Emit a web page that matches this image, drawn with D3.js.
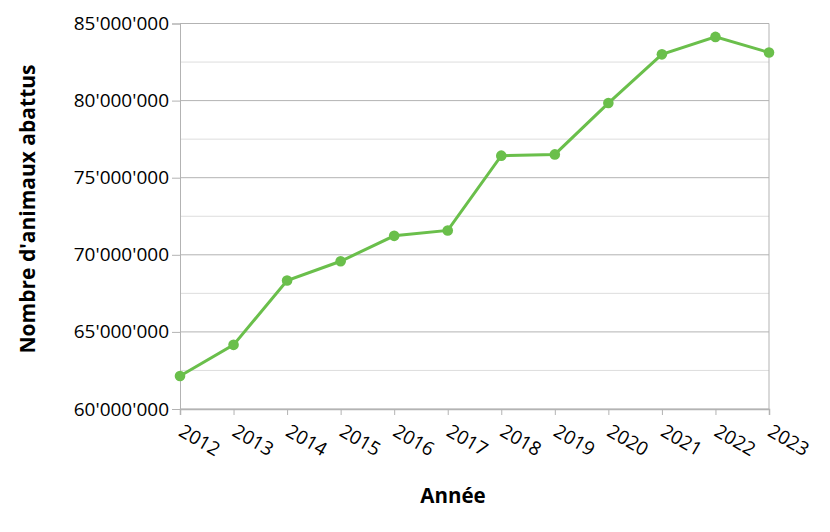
<!DOCTYPE html>
<html>
<head>
<meta charset="utf-8">
<script src="https://cdn.jsdelivr.net/npm/d3@7"></script>
<style>
  body { margin: 0; background: #fff; }
  text { font-family: "Open Sans", "Noto Sans", sans-serif; fill: #000; }
</style>
</head>
<body>
<div id="chart"></div>
<script>
// données
var years = [2012, 2013, 2014, 2015, 2016, 2017, 2018, 2019, 2020, 2021, 2022, 2023];
var animals = [62140000, 64160000, 68330000, 69580000, 71230000, 71580000,
               76430000, 76510000, 79840000, 83000000, 84130000, 83120000];
var yTicks = [60000000, 65000000, 70000000, 75000000, 80000000, 85000000];
var yMinor = [62500000, 67500000, 72500000, 77500000, 82500000];

var width = 830, height = 532;
var margin = {top: 23.5, right: 61, bottom: 123, left: 180};
var w = width - margin.left - margin.right,
    h = height - margin.top - margin.bottom;

var svg = d3.select('#chart').append('svg')
  .attr('width', width).attr('height', height);
var g = svg.append('g')
  .attr('transform', 'translate(' + margin.left + ',' + margin.top + ')');

var x = d3.scalePoint().domain(years).range([0, w]);
var y = d3.scaleLinear().domain([60000000, 85000000]).range([h, 0]);

var fmt = function(v) { return d3.format(',')(v).replace(/,/g, "'"); };

// grille secondaire
g.selectAll('line.minor').data(yMinor).enter().append('line')
  .attr('class', 'minor')
  .attr('x1', 0).attr('x2', w)
  .attr('y1', function(d) { return y(d); }).attr('y2', function(d) { return y(d); })
  .attr('stroke', '#dddddd').attr('stroke-width', 1);

// grille principale
g.selectAll('line.major').data(yTicks).enter().append('line')
  .attr('class', 'major')
  .attr('x1', 0).attr('x2', w)
  .attr('y1', function(d) { return y(d); }).attr('y2', function(d) { return y(d); })
  .attr('stroke', '#b3b3b3').attr('stroke-width', 1);

// bord droit
g.append('line').attr('x1', w).attr('x2', w).attr('y1', 0).attr('y2', h)
  .attr('stroke', '#b3b3b3');

// axe y
var yAxis = g.append('g')
  .call(d3.axisLeft(y).tickValues(yTicks).tickFormat(fmt).tickSize(8).tickPadding(3));
yAxis.select('.domain').attr('stroke', '#b3b3b3');
yAxis.selectAll('.tick line').attr('stroke', '#b3b3b3');
yAxis.selectAll('.tick text').style('font-size', '19px')
  .style('font-family', '"Open Sans", sans-serif');

// axe x
var xAxis = g.append('g').attr('transform', 'translate(0,' + h + ')')
  .call(d3.axisBottom(x).tickSize(6).tickPadding(4));
xAxis.select('.domain').attr('stroke', '#b3b3b3').attr('stroke-width', 1.5);
xAxis.selectAll('.tick line').attr('stroke', '#b3b3b3');
xAxis.selectAll('.tick text')
  .style('font-size', '19px')
  .style('font-family', '"Open Sans", sans-serif')
  .attr('text-anchor', 'start')
  .attr('x', 0).attr('y', 0).attr('dy', '0')
  .attr('transform', 'translate(-3,26) rotate(30)');

// courbe
var line = d3.line()
  .x(function(d, i) { return x(years[i]); })
  .y(function(d) { return y(d); });

g.append('path').datum(animals)
  .attr('d', line)
  .attr('fill', 'none')
  .attr('stroke', '#6abf4b')
  .attr('stroke-width', 3);

g.selectAll('circle').data(animals).enter().append('circle')
  .attr('cx', function(d, i) { return x(years[i]); })
  .attr('cy', function(d) { return y(d); })
  .attr('r', 5.3)
  .attr('fill', '#6abf4b');

// titres
svg.append('text')
  .attr('x', 453).attr('y', 503)
  .attr('text-anchor', 'middle')
  .style('font-size', '20.5px').style('font-weight', 'bold')
  .text('Année');

svg.append('text')
  .attr('transform', 'translate(35,209) rotate(-90)')
  .attr('text-anchor', 'middle')
  .style('font-size', '21px').style('font-weight', 'bold')
  .text("Nombre d'animaux abattus");
</script>
</body>
</html>
